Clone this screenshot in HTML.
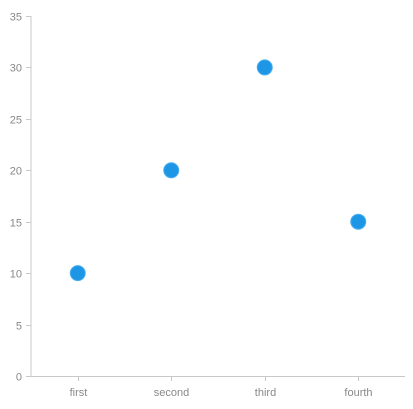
<!DOCTYPE html>
<html><head><meta charset="utf-8"><style>
html,body{margin:0;padding:0;background:#fff;}
svg{display:block;font-family:"Liberation Sans",sans-serif;}
</style></head><body>
<svg id="chart" width="413" height="409" xmlns="http://www.w3.org/2000/svg"></svg>
<script>
const categories = ["first","second","third","fourth"];
const values = [10,20,30,15];
const yTicks = [0,5,10,15,20,25,30,35];
const svg = document.getElementById('chart');
const NS = 'http://www.w3.org/2000/svg';
const x0 = 31, x1 = 405, yBase = 376, yTop = 16, yMax = 35;
const band = (x1 - x0) / categories.length;
const xs = i => x0 + band * (i + 0.5);
const ys = v => yBase - (v / yMax) * (yBase - yTop);
function mk(tag, attrs, parent) {
  const e = document.createElementNS(NS, tag);
  for (const k in attrs) e.setAttribute(k, attrs[k]);
  (parent || svg).appendChild(e);
  return e;
}
const gy = mk('g', {});


mk('line', {x1: x0, y1: yTop, x2: x0, y2: yBase, stroke: '#c8c8c8', 'stroke-width': 1}, gy);
yTicks.forEach(t => {
  const y = Math.round(ys(t)) + 0.5;
  mk('line', {x1: x0 - 5, y1: y, x2: x0, y2: y, stroke: '#c8c8c8'}, gy);
  const tx = mk('text', {x: x0 - 9, y: y + 4, 'text-anchor': 'end', 'font-size': 11, fill: '#888'}, gy);
  
  
  tx.textContent = t;
});
const gx = mk('g', {});


mk('line', {x1: x0, y1: yBase + 0.5, x2: x1, y2: yBase + 0.5, stroke: '#c8c8c8'}, gx);
categories.forEach((c, i) => {
  const x = Math.round(xs(i)) + 0.5;
  mk('line', {x1: x, y1: yBase, x2: x, y2: yBase + 5, stroke: '#c8c8c8'}, gx);
  const tx = mk('text', {x: x, y: yBase + 20, 'text-anchor': 'middle', 'font-size': 11, fill: '#888'}, gx);
  
  
  tx.textContent = c;
});
values.forEach((v, i) => {
  const c = mk('circle', {cx: xs(i), cy: ys(v), r: 7.5, fill: '#1e96e6', stroke: '#4aaef0', 'stroke-width': 1});
  
  
});
</script>
</body></html>
